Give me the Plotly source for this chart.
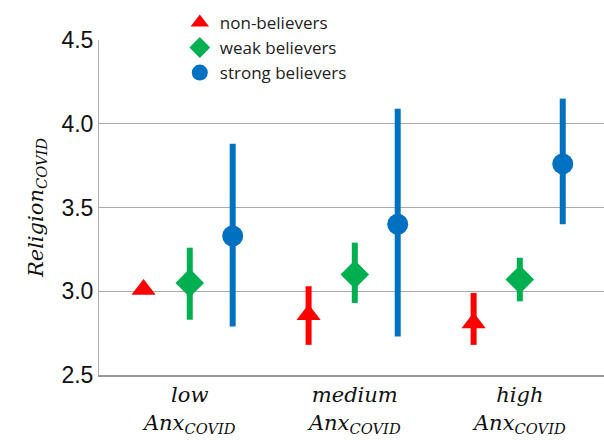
import plotly.graph_objects as go

groups = ["low", "medium", "high"]
group_pos = [0, 1, 2]
series = ["non-believers", "weak believers", "strong believers"]
offsets = [-0.28, 0.0, 0.26]

non_mean = [3.01, 2.86, 2.81]
non_lo = [3.01, 2.68, 2.68]
non_hi = [3.01, 3.03, 2.99]

weak_mean = [3.05, 3.10, 3.07]
weak_lo = [2.83, 2.93, 2.94]
weak_hi = [3.26, 3.29, 3.20]

strong_mean = [3.33, 3.40, 3.76]
strong_lo = [2.79, 2.73, 3.40]
strong_hi = [3.88, 4.09, 4.15]

colors = ["#FF0000", "#00B050", "#0070C0"]
symbols = ["triangle-up", "diamond", "circle"]
sizes = [21, 22, 21]

means = [non_mean, weak_mean, strong_mean]
los = [non_lo, weak_lo, strong_lo]
his = [non_hi, weak_hi, strong_hi]

fig = go.Figure()
for i, name in enumerate(series):
    xs = [g + offsets[i] for g in group_pos]
    fig.add_trace(go.Scatter(
        x=xs, y=means[i], mode="markers", name=name,
        marker=dict(symbol=symbols[i], color=colors[i], size=sizes[i], line=dict(width=0)),
        error_y=dict(type="data", symmetric=False,
                     array=[h - m for h, m in zip(his[i], means[i])],
                     arrayminus=[m - l for m, l in zip(means[i], los[i])],
                     color=colors[i], thickness=6, width=0),
    ))

ticktext = [f"<i>{g}</i><br><i>Anx<sub>COVID</sub></i>" for g in groups]

fig.update_layout(
    width=604, height=440,
    margin=dict(l=99, r=0, t=40, b=65, autoexpand=False),
    plot_bgcolor="white", paper_bgcolor="white",
    showlegend=True,
    legend=dict(x=0.16, y=1.105, xanchor="left", yanchor="top",
                bgcolor="white", font=dict(family="Open Sans", size=17, color="#222"),
                tracegroupgap=0, itemsizing="trace"),
    xaxis=dict(range=[-0.55, 2.51], tickvals=group_pos, ticktext=ticktext,
               showgrid=False, zeroline=False, showline=True, linecolor="#999999", linewidth=2,
               tickfont=dict(family="DejaVu Serif", size=21, color="#111"), ticks=""),
    yaxis=dict(range=[2.5, 4.5], tickvals=[2.5, 3.0, 3.5, 4.0, 4.5],
               ticktext=["2.5", "3.0", "3.5", "4.0", "4.5"],
               showgrid=True, gridcolor="#aaaaaa", gridwidth=1, zeroline=False,
               showline=True, linecolor="#aaaaaa", linewidth=1,
               tickfont=dict(family="Liberation Sans", size=23, color="#111"), ticks="",
               title=dict(text="<i>Religion<sub>COVID</sub></i>",
                          font=dict(family="DejaVu Serif", size=21, color="#111"), standoff=12)),
)

fig.write_html("out.html", config={"displayModeBar": False},
               post_script="document.body.style.margin='0';document.body.style.overflow='hidden';")
